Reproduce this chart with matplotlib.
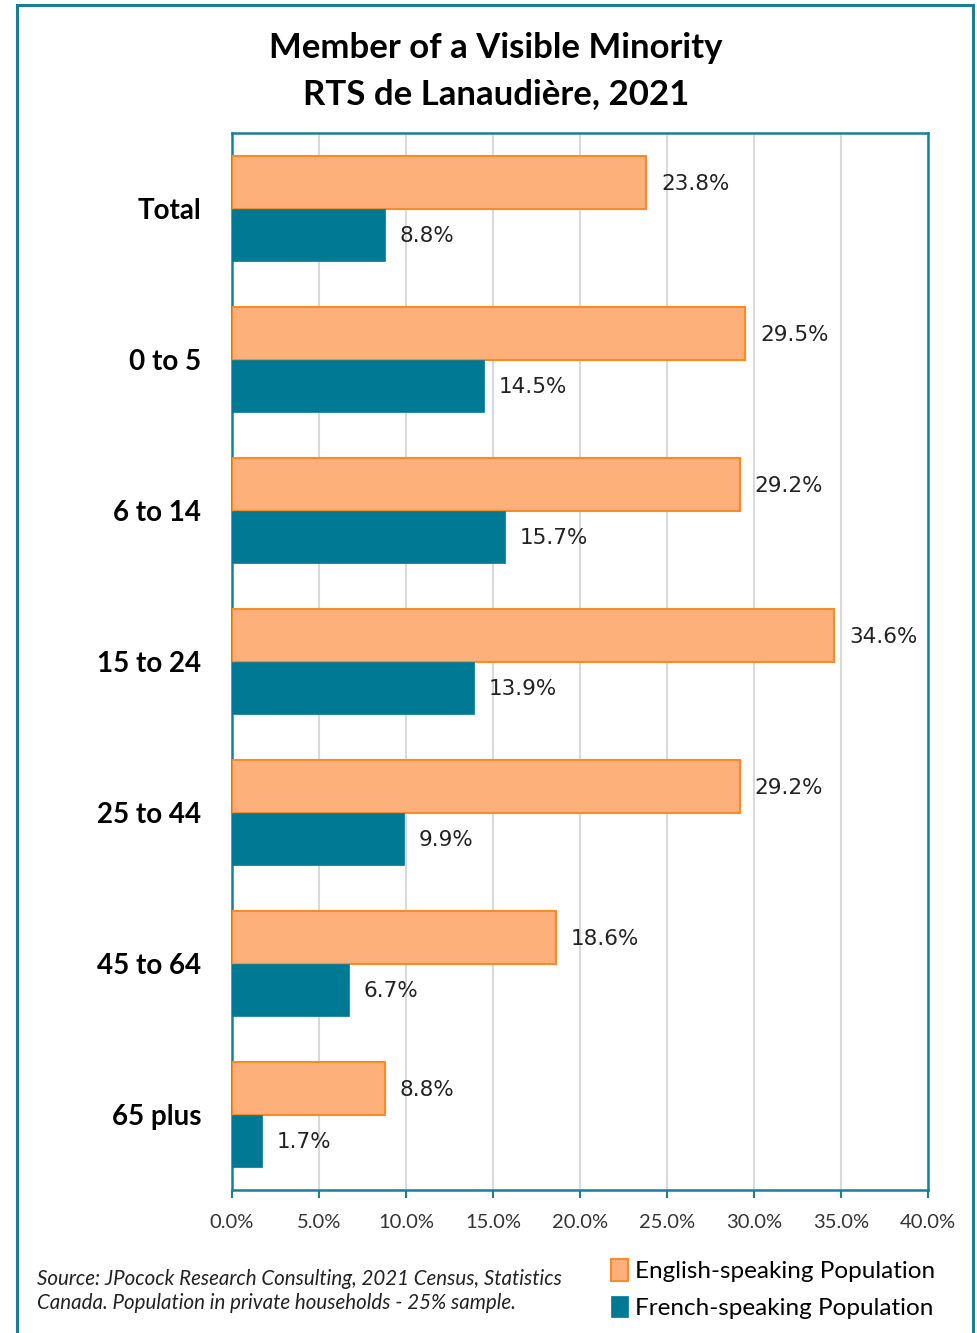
import matplotlib
matplotlib.use("Agg")
import matplotlib.pyplot as plt
from matplotlib.patches import Rectangle
import numpy as np

categories = ["Total", "0 to 5", "6 to 14", "15 to 24", "25 to 44", "45 to 64", "65 plus"]
english = [23.8, 29.5, 29.2, 34.6, 29.2, 18.6, 8.8]
french = [8.8, 14.5, 15.7, 13.9, 9.9, 6.7, 1.7]
xticks = [0, 5, 10, 15, 20, 25, 30, 35, 40]
xtick_labels = ["0.0%", "5.0%", "10.0%", "15.0%", "20.0%", "25.0%", "30.0%", "35.0%", "40.0%"]
series_names = ["English-speaking Population", "French-speaking Population"]

TEAL = "#007A94"
SPINE = "#1A7F96"
ORANGE_FILL = "#FDB07A"
ORANGE_EDGE = "#F98A2A"

plt.rcParams['font.family'] = ['Lato', 'DejaVu Sans']

fig = plt.figure(figsize=(9.77, 13.33), dpi=100)
W, H = 977, 1333

# outer frame
fig.patches.append(Rectangle((17 / W, -0.05), (973 - 17) / W, (H - 5) / H + 0.05,
                             transform=fig.transFigure, fill=False,
                             edgecolor=SPINE, linewidth=2.2, zorder=0))

ax = fig.add_axes([232 / W, (H - 1190) / H, (928 - 232) / W, (1190 - 133) / H])

n = len(categories)
y = np.arange(n)
h = 0.35
ax.barh(y - h / 2, english, height=h, color=ORANGE_FILL, edgecolor=ORANGE_EDGE,
        linewidth=1.5, label=series_names[0], zorder=3)
ax.barh(y + h / 2, french, height=h, color=TEAL, edgecolor=TEAL,
        linewidth=0.5, label=series_names[1], zorder=3)

for i in range(n):
    ax.text(english[i] + 0.85, y[i] - h / 2 + 0.01, f"{english[i]:.1f}%", va="center", ha="left",
            fontsize=15.5, family="DejaVu Sans", color="#222222")
    ax.text(french[i] + 0.85, y[i] + h / 2 + 0.01, f"{french[i]:.1f}%", va="center", ha="left",
            fontsize=15.5, family="DejaVu Sans", color="#222222")

ax.set_ylim(n - 0.5, -0.5)
ax.set_xlim(0, 40)
ax.set_yticks(y)
ax.set_yticklabels(categories, fontsize=20, fontweight="bold")
ax.tick_params(axis="y", length=0, pad=22)
ax.set_xticks(xticks)
ax.set_xticklabels(xtick_labels, fontsize=14.5, color="#333333")
ax.tick_params(axis="x", length=6, width=1.5, color=SPINE, pad=11, direction="out")
ax.grid(axis="x", color="#D9D9D9", linewidth=1.5, zorder=0)
ax.set_axisbelow(True)
for s in ax.spines.values():
    s.set_color(SPINE)
    s.set_linewidth(1.8)

fig.text(496 / W, 1 - 48 / H, "Member of a Visible Minority", ha="center", va="center",
         fontsize=25, fontweight="bold")
fig.text(496 / W, 1 - 94 / H, "RTS de Lanaudière, 2021", ha="center", va="center",
         fontsize=25, fontweight="bold")

fig.text(37 / W, 1 - 1291 / H,
         "Source: JPocock Research Consulting, 2021 Census, Statistics\nCanada. Population in private households - 25% sample.",
         ha="left", va="center", fontsize=14.8, style="italic", color="#222222", linespacing=1.3)

ax.legend(loc="upper left", bbox_to_anchor=(599 / W, 1 - 1247 / H), bbox_transform=fig.transFigure,
          frameon=False, fontsize=17.5, handlelength=0.7, handleheight=1.0, handletextpad=0.3,
          labelspacing=0.55, borderpad=0)

fig.savefig("out.png", dpi=100)
